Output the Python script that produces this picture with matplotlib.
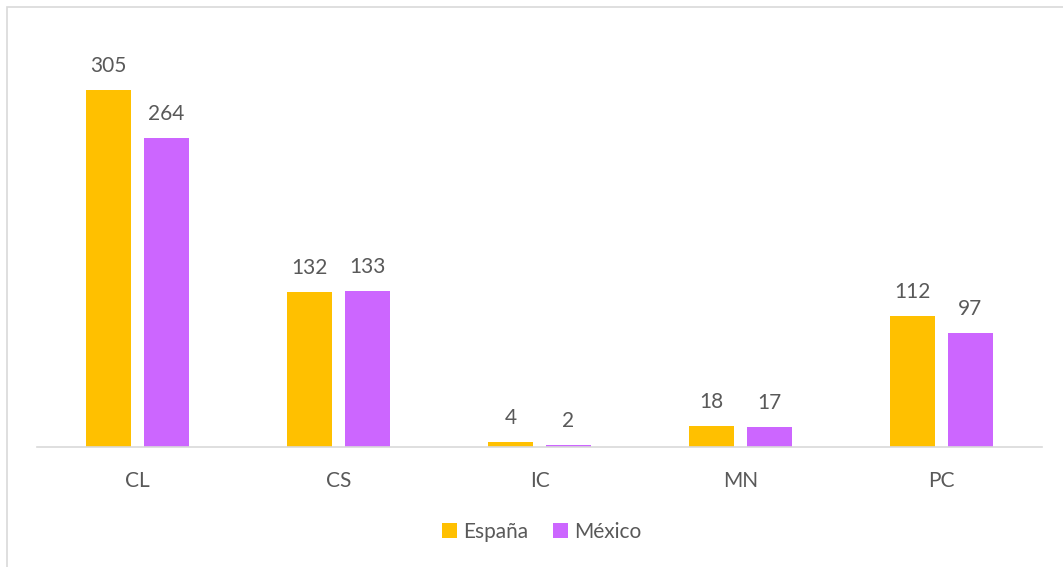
import matplotlib
matplotlib.use("Agg")
import matplotlib.pyplot as plt
import numpy as np

categories = ["CL", "CS", "IC", "MN", "PC"]
espana = [305, 132, 4, 18, 112]
mexico = [264, 133, 2, 17, 97]

plt.rcParams['font.family'] = ['Lato', 'DejaVu Sans']
text_color = '#595959'

fig = plt.figure(figsize=(10.63, 5.67), dpi=100)
ax = fig.add_axes([37 / 1063, 120 / 567, 1005 / 1063, 410 / 567])

x = np.arange(len(categories))
width = 0.22
offset = 0.144
b1 = ax.bar(x - offset, espana, width, color='#FFC000', label='España')
b2 = ax.bar(x + offset, mexico, width, color='#CC66FF', label='México')

for bars in (b1, b2):
    for rect in bars:
        h = rect.get_height()
        ax.annotate(f"{h:g}", (rect.get_x() + rect.get_width() / 2, h),
                    xytext=(0, 10), textcoords='offset points',
                    ha='center', va='bottom', fontsize=15, color=text_color)

ax.set_xlim(-0.5, len(categories) - 0.5)
ax.set_ylim(0, 350)
ax.set_yticks([])
ax.set_xticks(x)
ax.set_xticklabels(categories, fontsize=15, color=text_color)
ax.tick_params(axis='x', length=0, pad=17)
for side in ('top', 'right', 'left'):
    ax.spines[side].set_visible(False)
ax.spines['bottom'].set_color('#D9D9D9')
ax.spines['bottom'].set_linewidth(1.2)

leg = fig.legend(loc='center', bbox_to_anchor=(542 / 1063, 1 - 532 / 567),
                 ncol=2, frameon=False, fontsize=15, handlelength=0.7,
                 handleheight=0.7, handletextpad=0.3, columnspacing=1.2)
for t in leg.get_texts():
    t.set_color(text_color)

# outer chart frame
fig.patches.append(plt.Rectangle((7 / 1063, -0.1), 1.2, 1 - 7 / 567 + 0.1,
                                 transform=fig.transFigure, fill=False,
                                 edgecolor='#D9D9D9', linewidth=1.2))

fig.savefig("out.png", dpi=100)
